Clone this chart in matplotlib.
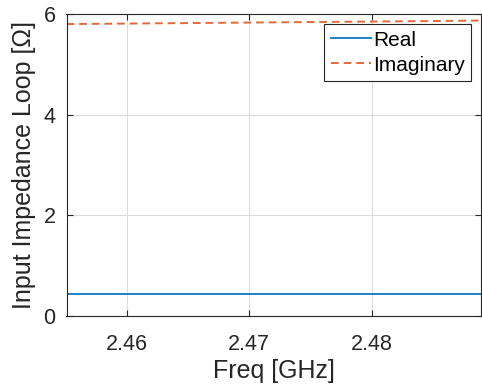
import numpy as np
import matplotlib
matplotlib.use('Agg')
import matplotlib.pyplot as plt

# Loop input impedance vs frequency
freq_ghz = [2.4551, 2.46, 2.465, 2.47, 2.475, 2.48, 2.485, 2.4889]
z_real = [0.44, 0.44, 0.44, 0.44, 0.44, 0.44, 0.44, 0.44]
z_imag = [5.80, 5.81, 5.82, 5.83, 5.84, 5.85, 5.86, 5.87]

x_ticks = [2.46, 2.47, 2.48]
y_ticks = [0, 2, 4, 6]

plt.rcParams['font.family'] = ['Liberation Sans', 'DejaVu Sans']

fig = plt.figure(figsize=(4.82, 3.88), dpi=100)
ax = fig.add_axes([66.5 / 482, 1 - 316 / 388, (481 - 66.5) / 482, (316 - 14) / 388])

ax.plot(freq_ghz, z_real, color='#1f7fc4', lw=1.4, label='Real')
ax.plot(freq_ghz, z_imag, color='#e2693a', lw=1.4, ls=(0, (4, 2.5)), label='Imaginary')

ax.set_xlim(2.4551, 2.4889)
ax.set_ylim(0, 6)
ax.set_xticks(x_ticks)
ax.set_xticklabels([f'{t:.2f}' for t in x_ticks])
ax.set_yticks(y_ticks)

ax.grid(True, color='#dcdcdc', lw=0.8)
ax.set_axisbelow(True)
ax.tick_params(direction='in', top=True, right=True, length=4, width=0.8,
               labelsize=15.5, colors='#262626')
ax.tick_params(axis='x', pad=13)
ax.tick_params(axis='y', pad=8)
for s in ax.spines.values():
    s.set_color('#262626')
    s.set_linewidth(0.8)

ax.set_xlabel('Freq [GHz]', fontsize=18, color='#262626', labelpad=3)
ax.set_ylabel('Input Impedance Loop [\u03a9]', fontsize=18, color='#262626', labelpad=5)

leg = ax.legend(loc='upper right', bbox_to_anchor=(0.977, 0.966), fontsize=15,
                fancybox=False, framealpha=1, edgecolor='#262626',
                handlelength=1.95, handletextpad=0.1, borderpad=0.3,
                labelspacing=0.3, borderaxespad=0)
leg.get_frame().set_linewidth(0.8)

fig.savefig('out.png', dpi=100)
